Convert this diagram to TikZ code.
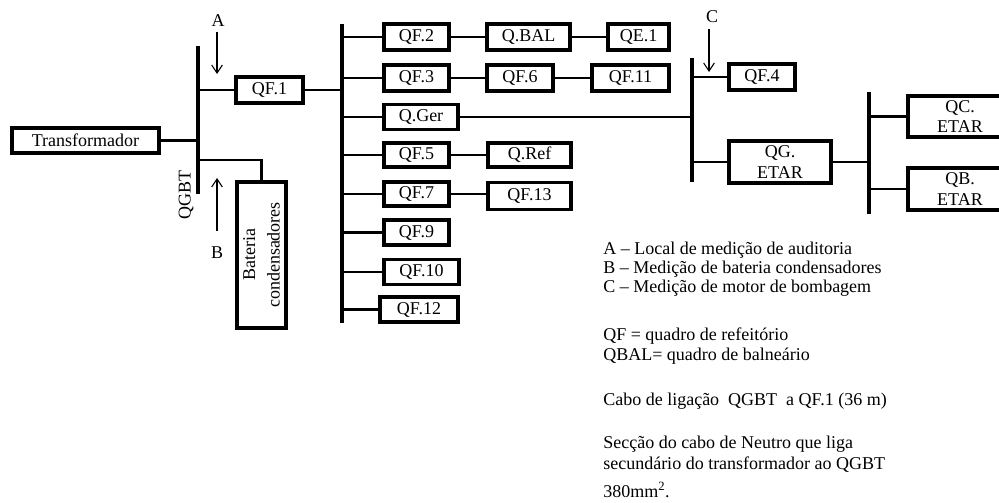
\documentclass[tikz,border=0pt]{standalone}
\usepackage{fontspec}
\setmainfont{Liberation Serif}
\usetikzlibrary{arrows.meta}
\begin{document}
\begin{tikzpicture}[x=0.75pt,y=-0.75pt,
  font=\fontsize{13.5}{15.5}\selectfont,
  box/.style={draw, line width=2.3pt, inner sep=0pt, minimum height=19.5pt, align=center},
  bus/.style={line width=2.6pt},
  wire/.style={line width=2.1pt},
  meas/.style={line width=0.8pt, -{Straight Barb[length=6pt,width=8pt]}},
  lbl/.style={inner sep=0pt},
  leg/.style={anchor=west, inner sep=0pt}]
\useasboundingbox (0,0) rectangle (999,503);
\clip (0,0) rectangle (999,503);
\fill[white] (0,0) rectangle (999,503);

% ---------- QGBT ----------
\coordinate (g1) at (198,46);
\coordinate (g2) at (198,194);
\draw[bus] (g1) -- (g2);
\node[lbl, rotate=90] (qgbt) at (186,195) {QGBT};

\node[box, minimum width=110.25pt, minimum height=18.75pt] (tr) at (85.5,140.5) {Transformador};
\draw[wire] (tr.east) -- (tr.east -| g1);

\node[box, minimum width=50.25pt] (qf1) at (269.5,90) {QF.1};
\draw[wire] (qf1.west -| g1) -- (qf1.west);

\node[box, rotate=90, minimum width=109.5pt, minimum height=36.75pt] (bat) at (261.5,255) {Bateria\\[3pt]condensadores};
\coordinate (gb) at (198,160);
\draw[wire] (gb) -| (bat.east);

% measurement points A, B
\node[lbl] (A) at (218,21) {A};
\coordinate (Aa) at (217,32);
\coordinate (Ab) at (217,74);
\draw[meas] (Aa) -- (Ab);
\node[lbl] (B) at (217,253) {B};
\coordinate (Ba) at (217,231);
\coordinate (Bb) at (217,178);
\draw[meas] (Ba) -- (Bb);

% ---------- second bus ----------
\coordinate (b1) at (342,24);
\coordinate (b2) at (342,323);
\draw[bus] (b1) -- (b2);
\draw[wire] (qf1.east) -- (qf1.east -| b1);

% row 1
\node[box, minimum width=48.75pt] (qf2) at (416.5,37) {QF.2};
\node[box, minimum width=62.25pt] (qbal) at (528.5,37) {Q.BAL};
\node[box, minimum width=45.75pt] (qe1) at (638.5,37) {QE.1};
\draw[wire] (qf2.west -| b1) -- (qf2.west);
\draw[wire] (qf2.east) -- (qbal.west);
\draw[wire] (qbal.east) -- (qe1.west);

% row 2
\node[box, minimum width=48.75pt] (qf3) at (416.5,78) {QF.3};
\node[box, minimum width=49.5pt] (qf6) at (520,78) {QF.6};
\node[box, minimum width=57.75pt] (qf11) at (630.5,78) {QF.11};
\draw[wire] (qf3.west -| b1) -- (qf3.west);
\draw[wire] (qf3.east) -- (qf6.west);
\draw[wire] (qf6.east) -- (qf11.west);

% row 3
\node[box, minimum width=55.5pt, minimum height=18.75pt] (qger) at (421,117) {Q.Ger};
\draw[wire] (qger.west -| b1) -- (qger.west);

% row 4
\node[box, minimum width=48.75pt, minimum height=18pt] (qf5) at (416.5,155) {QF.5};
\node[box, minimum width=62.25pt, minimum height=18pt] (qref) at (529.5,155) {Q.Ref};
\draw[wire] (qf5.west -| b1) -- (qf5.west);
\draw[wire] (qf5.east) -- (qref.west);

% row 5
\node[box, minimum width=48.75pt, minimum height=18pt] (qf7) at (416.5,194) {QF.7};
\node[box, minimum width=62.25pt, minimum height=20pt] (qf13) at (529.5,196) {QF.13};
\draw[wire] (qf7.west -| b1) -- (qf7.west);
\draw[wire] (qf7.east) -- (qf7.east -| qf13.west);

% rows 6-8
\node[box, minimum width=48.75pt, minimum height=18.75pt] (qf9) at (416.5,232.5) {QF.9};
\draw[wire] (qf9.west -| b1) -- (qf9.west);
\node[box, minimum width=56.25pt, minimum height=18.75pt] (qf10) at (421.5,272) {QF.10};
\draw[wire] (qf10.west -| b1) -- (qf10.west);
\node[box, minimum width=58.5pt, minimum height=18.75pt] (qf12) at (419,309.5) {QF.12};
\draw[wire] (qf12.west -| b1) -- (qf12.west);

% ---------- third bus ----------
\coordinate (c1) at (692,58);
\coordinate (c2) at (692,182);
\draw[bus] (c1) -- (c2);
\draw[wire] (qger.east) -- (qger.east -| c1);

\node[lbl] (C) at (712,17) {C};
\coordinate (Ca) at (709,29);
\coordinate (Cb) at (709,72);
\draw[meas] (Ca) -- (Cb);

\node[box, minimum width=49.5pt] (qf4) at (762,77) {QF.4};
\draw[wire] (qf4.west -| c1) -- (qf4.west);

\node[box, minimum width=76.5pt, minimum height=31.5pt] (qget) at (780,162) {QG.\\ETAR};
\draw[wire] (qget.west -| c1) -- (qget.west);

% ---------- fourth bus ----------
\coordinate (d1) at (869,92);
\coordinate (d2) at (869,214);
\draw[bus] (d1) -- (d2);
\draw[wire] (qget.east) -- (qget.east -| d1);

\node[box, minimum width=78pt, minimum height=30.75pt] (qcet) at (960,116.5) {QC.\\ETAR};
\draw[wire] (qcet.west -| d1) -- (qcet.west);
\node[box, minimum width=78pt, minimum height=31.5pt] (qbet) at (960,189) {QB.\\ETAR};
\draw[wire] (qbet.west -| d1) -- (qbet.west);

% ---------- legend ----------
\node[leg] (l1) at (603,250) {A -- Local de medição de auditoria};
\node[leg] (l2) at (603,269) {B -- Medição de bateria condensadores};
\node[leg] (l3) at (603,288) {C -- Medição de motor de bombagem};
\node[leg] (l4) at (603,336) {QF = quadro de refeitório};
\node[leg] (l5) at (603,356) {QBAL= quadro de balneário};
\node[leg] (l6) at (603,401) {Cabo de ligação\ \ QGBT\ \ a QF.1 (36 m)};
\node[leg] (l7) at (603,444) {Secção do cabo de Neutro que liga};
\node[leg] (l8) at (603,465) {secundário do transformador ao QGBT};
\node[leg] (l9) at (603,490) {380mm\textsuperscript{2}.};
\end{tikzpicture}
\end{document}
